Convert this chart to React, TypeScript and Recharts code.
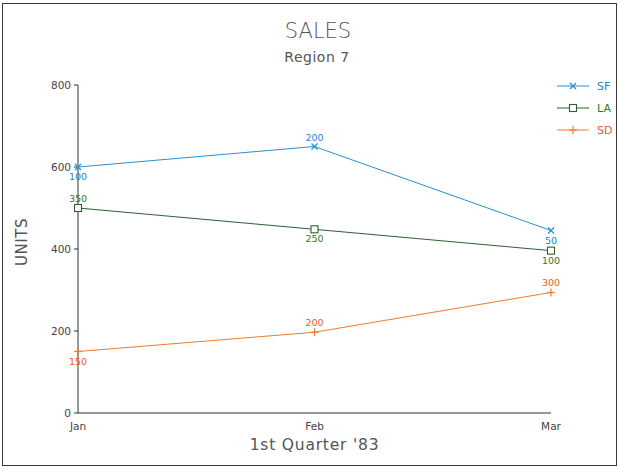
import React from 'react';
import { LineChart, Line, XAxis, YAxis, Label, LabelList } from 'recharts';

const months = ['Jan', 'Feb', 'Mar'];
const sf = [600, 650, 445];
const la = [500, 448, 396];
const sd = [150, 197, 294];
// the annotations printed next to each point (not the plotted values)
const sfNotes = [100, 200, 50];
const laNotes = [350, 250, 100];
const sdNotes = [150, 200, 300];
const yTicks = [0, 200, 400, 600, 800];
const seriesKeys = ['SF', 'LA', 'SD'];

const data = months.map((m, i) => ({
  month: m,
  SF: sf[i],
  LA: la[i],
  SD: sd[i],
  sfNote: sfNotes[i],
  laNote: laNotes[i],
  sdNote: sdNotes[i],
}));

const FONT = '"DejaVu Sans", sans-serif';

const COLORS: Record<string, { line: string; text: string }> = {
  SF: { line: '#2a8fd0', text: '#1f86c8' },
  LA: { line: '#2f5f2f', text: '#2e7a2e' },
  SD: { line: '#f07a2a', text: '#e8601e' },
};

const NOTE_KEY: Record<string, string> = { SF: 'sfNote', LA: 'laNote', SD: 'sdNote' };

// where each annotation sits relative to its point
const SIDE: Record<string, string[]> = {
  SF: ['below', 'above', 'below'],
  LA: ['above', 'below', 'below'],
  SD: ['below', 'above', 'above'],
};

const Marker = ({ kind, cx, cy, color }: any) => {
  if (cx == null || cy == null) return null;
  if (kind === 'SF') {
    return (
      <g stroke={color} strokeWidth={1.3}>
        <line x1={cx - 3} y1={cy - 3} x2={cx + 3} y2={cy + 3} />
        <line x1={cx - 3} y1={cy + 3} x2={cx + 3} y2={cy - 3} />
      </g>
    );
  }
  if (kind === 'LA') {
    return <rect x={cx - 3.5} y={cy - 3.5} width={7} height={7} fill="#fff" stroke={color} strokeWidth={1.1} />;
  }
  return (
    <g stroke={color} strokeWidth={1.2}>
      <line x1={cx - 4} y1={cy} x2={cx + 4} y2={cy} />
      <line x1={cx} y1={cy - 4} x2={cx} y2={cy + 4} />
    </g>
  );
};

const noteRenderer = (key: string) => (props: any) => {
  const { x, y, value, index } = props;
  const below = SIDE[key][index] === 'below';
  return (
    <text
      x={x}
      y={below ? y + 13 : y - 6}
      textAnchor="middle"
      fontFamily={FONT}
      fontSize={9.5}
      fill={COLORS[key].text}
    >
      {value}
    </text>
  );
};

const LegendBox = () => (
  <g transform="translate(555, 78)">
    {seriesKeys.map((k, i) => {
      const y = 8 + i * 22;
      return (
        <g key={k}>
          <line x1={2} y1={y} x2={34} y2={y} stroke={COLORS[k].line} strokeWidth={1} />
          <Marker kind={k} cx={18} cy={y} color={COLORS[k].line} />
          <text x={42} y={y + 4} fontFamily={FONT} fontSize={11} fill={COLORS[k].text}>
            {k}
          </text>
        </g>
      );
    })}
  </g>
);

const App: React.FC = () => {
  const tickStyle = { fontFamily: FONT, fontSize: 10.5, fill: '#444' };
  return (
    <div style={{ position: 'absolute', left: 0, top: 0, width: 620, height: 470, background: '#fff' }}>
      <div
        style={{
          position: 'absolute',
          left: 2,
          top: 3,
          width: 613,
          height: 461,
          border: '1.5px solid #3a3a3a',
          boxSizing: 'content-box',
        }}
      />
      <LineChart width={620} height={470} data={data} margin={{ top: 85, right: 69, bottom: 0, left: 20 }}>
        <text x={318} y={38} textAnchor="middle" fontFamily={FONT} fontSize={21} fill="#555" fontWeight={300}>
          SALES
        </text>
        <text x={317} y={62} textAnchor="middle" fontFamily={FONT} fontSize={14} fill="#555" letterSpacing={0.5}>
          Region 7
        </text>
        <LegendBox />
        <XAxis
          dataKey="month"
          stroke="#333"
          tick={tickStyle}
          tickLine={false}
          tickMargin={4}
          height={57}
        >
          <Label
            value="1st Quarter '83"
            position="insideTop"
            offset={26}
            fontFamily={FONT}
            fontSize={15.5}
            letterSpacing={0.8}
            fill="#555"
          />
        </XAxis>
        <YAxis
          domain={[0, 800]}
          ticks={yTicks}
          stroke="#333"
          width={58}
          tick={tickStyle}
          tickSize={4}
          tickMargin={3}
        >
          <Label
            content={() => (
              <text
                x={27}
                y={242}
                transform="rotate(-90 27 242)"
                textAnchor="middle"
                fontFamily={FONT}
                fontSize={15}
                letterSpacing={0.5}
                fill="#555"
              >
                UNITS
              </text>
            )}
          />
        </YAxis>
        {seriesKeys.map((k) => (
          <Line
            key={k}
            type="linear"
            dataKey={k}
            stroke={COLORS[k].line}
            strokeWidth={1}
            isAnimationActive={false}
            dot={(p: any) => <Marker key={`${k}-${p.index}`} kind={k} cx={p.cx} cy={p.cy} color={COLORS[k].line} />}
            activeDot={false}
          >
            <LabelList dataKey={NOTE_KEY[k]} content={noteRenderer(k)} />
          </Line>
        ))}
      </LineChart>
    </div>
  );
};

export default App;
